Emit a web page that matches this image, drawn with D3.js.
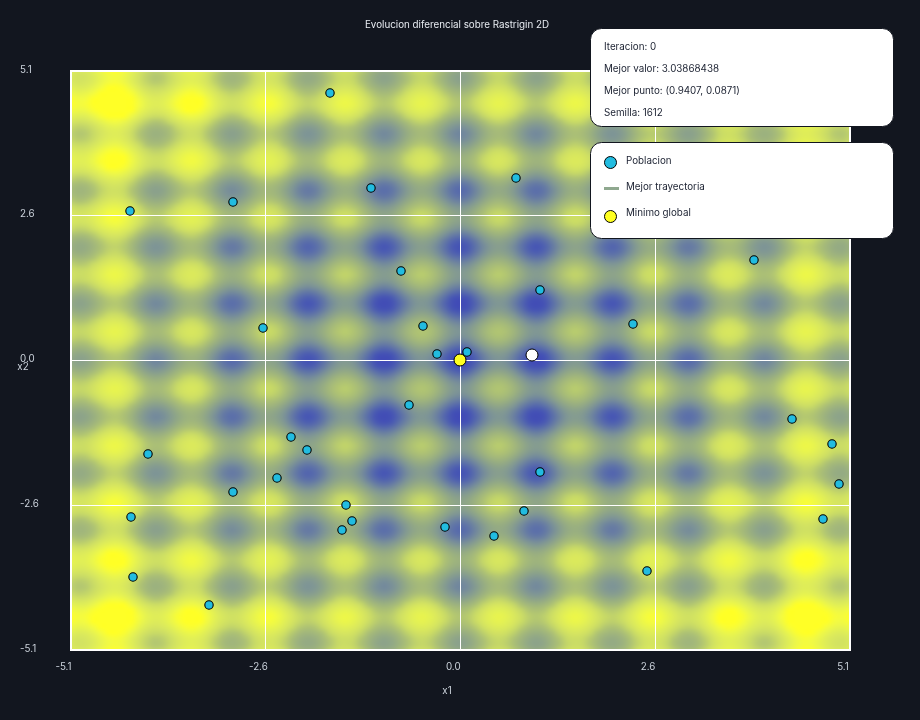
<!DOCTYPE html>
<html><head><meta charset="utf-8">
<script src="https://cdn.jsdelivr.net/npm/d3@7"></script>
<style>
html,body{margin:0;padding:0;background:#12161f;}
#wrap{position:relative;width:920px;height:720px;overflow:hidden;}
canvas,svg{position:absolute;left:0;top:0;}
text{font-family:Inter,sans-serif;font-size:9.8px;text-rendering:optimizeSpeed;}
</style></head><body>
<div id="wrap"><canvas id="heat" width="920" height="720"></canvas><svg id="chart" width="920" height="720"></svg></div>
<script>
const titleText="Evolucion diferencial sobre Rastrigin 2D";
const axisTicks=[-5.1,-2.55,0,2.55,5.1];
const axisLabels=["-5.1","-2.6","0.0","2.6","5.1"];
// Height of the surface along one axis, for |x| = 0, 0.1, ... 5.1
const surfaceProfile=[0,1.92,6.95,13.18,18.25,20.25,18.45,13.58,7.55,2.72,1,3.12,8.35,14.78,20.05,22.25,20.65,15.98,10.15,5.52,4,6.32,11.75,18.38,23.85,26.25,24.85,20.38,14.75,10.32,9,11.52,17.15,23.98,29.65,32.25,31.05,26.78,21.35,17.12,16,18.72,24.55,31.58,37.45,40.25,39.25,35.18,29.95,25.92,25,27.92];
const populationX=[-1.70,0.726,-1.164,-4.315,-2.968,-0.778,1.04,3.85,-2.583,-0.49,2.256,-0.30,0.09,-0.673,4.34,4.865,-2.21,-2.007,-4.08,1.04,-2.40,-2.968,4.95,-1.497,-4.302,-1.419,-1.543,-0.203,0.837,0.445,4.753,-4.276,-3.289,2.445];
const populationY=[4.71,3.21,3.025,2.62,2.78,1.565,1.24,1.767,0.563,0.598,0.642,0.105,0.14,-0.783,-1.03,-1.469,-1.354,-1.574,-1.653,-1.961,-2.075,-2.32,-2.172,-2.541,-2.752,-2.823,-2.99,-2.928,-2.647,-3.087,-2.788,-3.808,-4.309,-3.702];
const bestPoint=[0.9407,0.0871];
const globalMin=[0,0];
const infoLines=["Iteracion: 0","Mejor valor: 3.03868438","Mejor punto: (0.9407, 0.0871)","Semilla: 1612"];
const legendLabels=["Poblacion","Mejor trayectoria","Minimo global"];
const colorLevels=[0,5,10,20,30,40,46,52,58,65,69];
const colorRamp=["rgb(62,70,182)","rgb(70,85,180)","rgb(90,110,170)","rgb(125,148,150)","rgb(150,172,130)","rgb(175,195,115)","rgb(200,218,102)","rgb(215,230,95)","rgb(226,240,85)","rgb(243,251,65)","rgb(255,255,38)"];

const x=d3.scaleLinear().domain([-5.1,5.1]).range([70.5,850]);
const y=d3.scaleLinear().domain([-5.1,5.1]).range([650,70.5]);
const color=d3.scaleLinear().domain(colorLevels).range(colorRamp).clamp(true);
const snap=v=>Math.round(v);

// surface
const n=surfaceProfile.length*2-1;
const off=document.createElement("canvas");off.width=n;off.height=n;
const oc=off.getContext("2d");
const idx=i=>Math.abs(i-(surfaceProfile.length-1));
for(let j=0;j<n;j++)for(let i=0;i<n;i++){
  oc.fillStyle=color(surfaceProfile[idx(i)]+surfaceProfile[idx(j)]);
  oc.fillRect(i,j,1,1);
}
const ctx=document.getElementById("heat").getContext("2d");
ctx.imageSmoothingEnabled=true;ctx.imageSmoothingQuality="high";
ctx.drawImage(off,0.5,0.5,n-1,n-1,x(-5.1),y(5.1),x(5.1)-x(-5.1),y(-5.1)-y(5.1));

const svg=d3.select("#chart");
svg.append("text").attr("x",457).attr("y",27.5).attr("text-anchor","middle").attr("fill","#e8ecf2").text(titleText);

// grid
svg.append("g").selectAll("line").data(axisTicks.slice(1,4)).join("line")
 .attr("x1",d=>x(d)).attr("x2",d=>x(d)).attr("y1",y(5.1)).attr("y2",y(-5.1)).attr("stroke","#fff").attr("stroke-width",1).attr("shape-rendering","crispEdges");
svg.append("g").selectAll("line").data(axisTicks.slice(1,4)).join("line")
 .attr("y1",d=>y(d)).attr("y2",d=>y(d)).attr("x1",x(-5.1)).attr("x2",x(5.1)).attr("stroke","#fff").attr("stroke-width",1).attr("shape-rendering","crispEdges");
svg.append("rect").attr("x",x(-5.1)).attr("y",y(5.1)).attr("width",x(5.1)-x(-5.1)).attr("height",y(-5.1)-y(5.1))
 .attr("fill","none").attr("stroke","#fff").attr("stroke-width",2).attr("shape-rendering","crispEdges");

// tick labels
svg.append("g").selectAll("text").data(axisTicks).join("text")
 .attr("x",d=>x(d)-7).attr("y",670).attr("text-anchor","middle").attr("fill","#ccd3dc").text((d,i)=>axisLabels[i]);
svg.append("g").selectAll("text").data(axisTicks).join("text")
 .attr("x",20).attr("y",d=>y(d)+2).attr("fill","#ccd3dc").text((d,i)=>axisLabels[i]);
svg.append("text").attr("x",447).attr("y",694).attr("text-anchor","middle").attr("fill","#ccd3dc").text("x1");
svg.append("text").attr("x",23).attr("y",370).attr("text-anchor","middle").attr("fill","#ccd3dc").text("x2");

// points
const pts=d3.zip(populationX,populationY);
svg.append("g").selectAll("circle").data(pts).join("circle")
 .attr("cx",d=>snap(x(d[0]))).attr("cy",d=>snap(y(d[1]))).attr("r",4.2).attr("fill","#22bce0").attr("stroke","#000").attr("stroke-width",1.1);
svg.append("circle").attr("cx",snap(x(bestPoint[0]))).attr("cy",snap(y(bestPoint[1]))).attr("r",6).attr("fill","#fff").attr("stroke","#000");
svg.append("circle").attr("cx",snap(x(globalMin[0]))).attr("cy",snap(y(globalMin[1]))).attr("r",6).attr("fill","#ffff20").attr("stroke","#000");

// panels
function panel(px,py,w,h){svg.append("rect").attr("x",px).attr("y",py).attr("width",w).attr("height",h).attr("rx",11).attr("fill","#fff").attr("stroke","#12161f").attr("stroke-width",1);}
panel(590.5,28.5,303,98);
svg.append("g").selectAll("text").data(infoLines).join("text")
 .attr("x",604).attr("y",(d,i)=>50+i*22).attr("fill","#1a2030").text(d=>d);
panel(590.5,142.5,303,96);
svg.append("g").selectAll("text").data(legendLabels).join("text")
 .attr("x",626).attr("y",(d,i)=>164+i*26).attr("fill","#1a2030").text(d=>d);
svg.append("circle").attr("cx",610.5).attr("cy",162.5).attr("r",6).attr("fill","#22bce0").attr("stroke","#000");
svg.append("line").attr("x1",604).attr("x2",619).attr("y1",188).attr("y2",188).attr("stroke","#8fa88f").attr("stroke-width",3).attr("shape-rendering","crispEdges");
svg.append("circle").attr("cx",610.5).attr("cy",216.5).attr("r",6).attr("fill","#ffff20").attr("stroke","#000");
</script></body></html>
